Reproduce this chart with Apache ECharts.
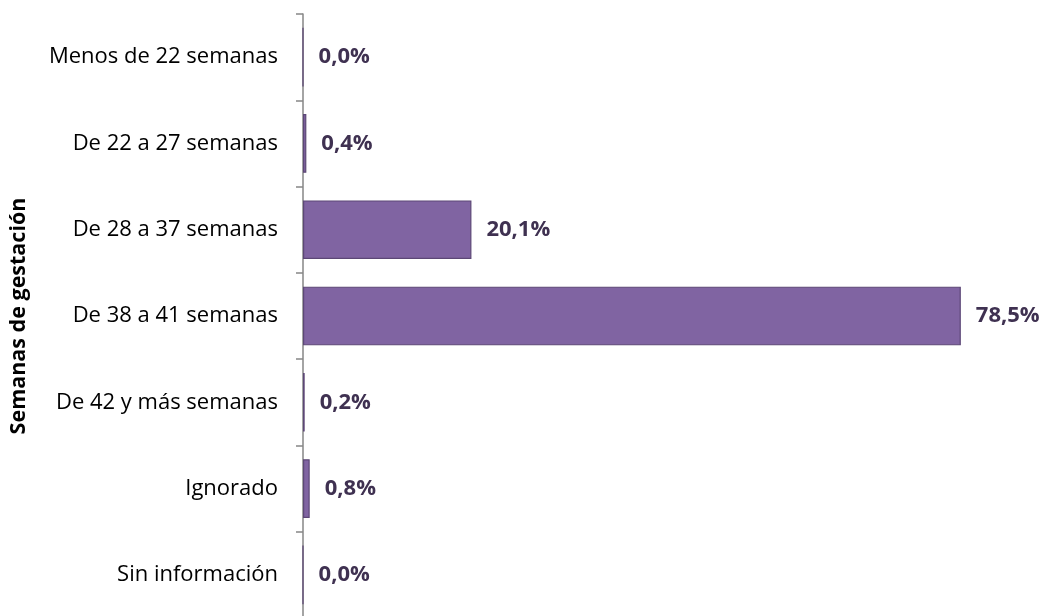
<!DOCTYPE html>
<html><head><meta charset="utf-8">
<script src="https://cdn.jsdelivr.net/npm/echarts@6/dist/echarts.min.js"></script>
<style>html,body{margin:0;padding:0;background:#fff}#c{width:1047px;height:616px}</style>
</head><body><div id="c"></div>
<script>
const categories = ["Menos de 22 semanas","De 22 a 27 semanas","De 28 a 37 semanas","De 38 a 41 semanas","De 42 y más semanas","Ignorado","Sin información"];
const values = [0.0, 0.4, 20.1, 78.5, 0.2, 0.8, 0.0];
const axisTitle = "Semanas de gestación";

const chart = echarts.init(document.getElementById('c'));
chart.setOption({
  animation:false,
  grid:{left:303, top:14, width:670.4, height:604, containLabel:false, outerBoundsMode:'none'},
  xAxis:{type:'value', min:0, max:80, show:false},
  yAxis:{type:'category', inverse:true, data:categories,
    name:axisTitle, nameLocation:'middle', nameGap:273, nameRotate:90,
    nameTextStyle:{fontFamily:'Open Sans', fontWeight:'bold', fontSize:21.5, color:'#000'},
    axisLine:{show:true, lineStyle:{color:'#868686', width:1.5}},
    axisTick:{show:true, length:7, lineStyle:{color:'#868686', width:1.5}},
    axisLabel:{margin:25, fontFamily:'Open Sans', fontSize:22, color:'#000'}
  },
  series:[{type:'bar', data:values, barCategoryGap:'32%',
    itemStyle:{color:'#8064A2', borderColor:'#5C4776', borderWidth:1.2},
    label:{show:true, position:'right', distance:15, fontFamily:'Open Sans', fontWeight:'bold', fontSize:22, color:'#3F3151',
      formatter:p=>p.value.toFixed(1).replace('.',',')+'%'}
  }]
});
</script></body></html>
